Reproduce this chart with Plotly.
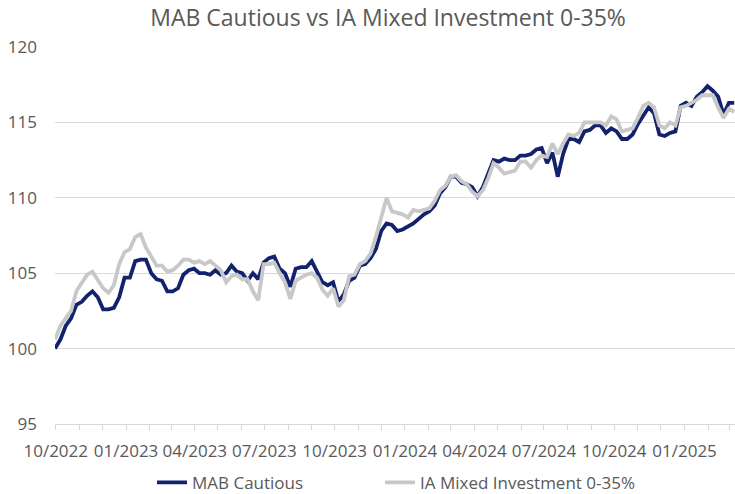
import pandas as pd
import plotly.graph_objects as go

# Weekly observations (Fridays) from 30/09/2022 to 07/03/2025
dates = pd.date_range("2022-09-30", periods=128, freq="7D")

mab_cautious = [
    100.0, 100.6, 101.5, 102.0, 102.9, 103.1, 103.5, 103.8, 103.4, 102.6,
    102.6, 102.7, 103.4, 104.7, 104.7, 105.8, 105.9, 105.9, 105.0, 104.6,
    104.5, 103.8, 103.8, 104.0, 104.9, 105.2, 105.3, 105.0, 105.0, 104.9,
    105.2, 104.9, 105.0, 105.5, 105.1, 105.0, 104.5, 105.0, 104.6, 105.7,
    106.0, 106.1, 105.3, 105.0, 104.1, 105.3, 105.4, 105.4, 105.8, 105.1,
    104.4, 104.2, 104.4, 103.1, 103.6, 104.5, 104.7, 105.5, 105.6, 106.0,
    106.6, 107.8, 108.3, 108.2, 107.8, 107.9, 108.1, 108.3, 108.6, 108.9,
    109.1, 109.5, 110.3, 110.7, 111.4, 111.4, 111.0, 110.9, 110.7, 110.1,
    110.7, 111.6, 112.5, 112.4, 112.6, 112.5, 112.5, 112.8, 112.8, 112.9,
    113.2, 113.3, 112.3, 113.0, 111.4, 112.9, 113.9, 113.9, 113.7, 114.4,
    114.5, 114.8, 114.8, 114.3, 114.6, 114.4, 113.9, 113.9, 114.2, 114.9,
    115.5, 116.0, 115.6, 114.2, 114.1, 114.3, 114.4, 116.1, 116.3, 116.1,
    116.7, 117.0, 117.4, 117.1, 116.7, 115.5, 116.3, 116.3,
]

ia_mixed = [
    100.6, 101.5, 102.0, 102.5, 103.8, 104.4, 104.9, 105.1, 104.5, 104.0,
    103.7, 104.2, 105.6, 106.4, 106.6, 107.4, 107.6, 106.7, 106.1, 105.5,
    105.5, 105.1, 105.2, 105.5, 105.9, 105.9, 105.7, 105.8, 105.6, 105.8,
    105.5, 105.2, 104.4, 104.8, 104.9, 104.6, 104.6, 103.8, 103.2, 105.6,
    105.6, 105.7, 105.0, 104.4, 103.3, 104.5, 104.7, 104.9, 105.0, 104.7,
    103.9, 103.5, 104.0, 102.8, 103.2, 104.8, 104.9, 105.6, 105.8, 106.3,
    107.4, 108.7, 110.0, 109.1, 109.0, 108.9, 108.7, 109.2, 109.1, 109.2,
    109.3, 109.8, 110.5, 110.8, 111.4, 111.5, 111.1, 110.9, 110.4, 110.1,
    110.5, 111.3, 112.3, 112.0, 111.6, 111.7, 111.8, 112.4, 112.4, 112.0,
    112.5, 112.8, 112.7, 113.6, 112.9, 113.6, 114.2, 114.1, 114.3, 115.0,
    115.0, 115.0, 115.0, 114.8, 115.4, 115.2, 114.4, 114.5, 114.6, 115.3,
    116.1, 116.3, 116.0, 114.8, 114.6, 115.0, 114.8, 116.0, 116.1, 116.3,
    116.5, 116.8, 116.8, 116.8, 116.0, 115.3, 115.9, 115.7,
]

series_names = ["MAB Cautious", "IA Mixed Investment 0-35%"]
title_text = "MAB Cautious vs IA Mixed Investment 0-35%"
y_ticks = [95, 100, 105, 110, 115, 120]

NAVY = "#13226d"
GREY = "#c8c8c8"
TEXT = "#595959"
GRID = "#d9d9d9"
FONT = "Open Sans"

fig = go.Figure()
fig.add_trace(go.Scatter(x=dates, y=mab_cautious, name=series_names[0], mode="lines",
                         line=dict(color=NAVY, width=3.8), legend="legend"))
fig.add_trace(go.Scatter(x=dates, y=ia_mixed, name=series_names[1], mode="lines",
                         line=dict(color=GREY, width=3.8), legend="legend2"))

legend_common = dict(orientation="h", xanchor="left", xref="container",
                     y=0.059, yanchor="top", yref="container",
                     bgcolor="rgba(0,0,0,0)",
                     font=dict(family=FONT, size=17, color=TEXT))

fig.update_layout(
    width=735, height=494,
    margin=dict(l=55, r=0, t=47, b=70, autoexpand=False),
    paper_bgcolor="white", plot_bgcolor="white",
    font=dict(family=FONT, color=TEXT, size=17),
    title=dict(text=title_text, x=0.528, xanchor="center", y=0.963, yanchor="middle",
               font=dict(family=FONT, size=23, color=TEXT)),
    showlegend=True,
    legend=dict(x=152 / 735, **legend_common),
    legend2=dict(x=380 / 735, **legend_common),
)

fig.update_xaxes(
    type="date", automargin=False,
    range=["2022-09-30", "2025-03-08"],
    tick0="2022-10-01", dtick="M3", tickformat="%m/%Y",
    showgrid=False, zeroline=False,
    showline=True, linecolor=GRID, linewidth=1,
    ticks="outside", ticklen=5, tickcolor=GRID,
    ticklabelstandoff=7,
    minor=dict(dtick="M1", ticks="outside", ticklen=5, tickcolor=GRID, showgrid=False),
    tickfont=dict(family=FONT, size=17, color=TEXT),
)
fig.update_yaxes(
    range=[95, 120], tickvals=y_ticks, automargin=False,
    showgrid=True, gridcolor=GRID, gridwidth=1,
    zeroline=False, showline=False, ticks="",
    ticklabelstandoff=17,
    tickfont=dict(family=FONT, size=17, color=TEXT),
)

fig.write_html("out.html", config={"displayModeBar": False},
               post_script="document.body.style.margin='0';")
